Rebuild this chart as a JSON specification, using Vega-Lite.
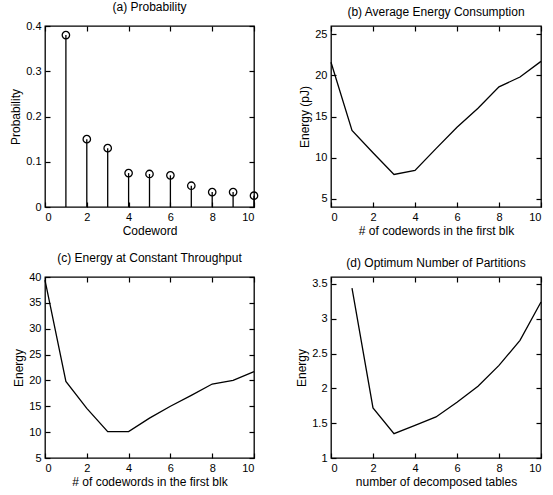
{
  "$schema": "https://vega.github.io/schema/vega-lite/v6.json",
  "padding": {"left": 9, "top": 0, "right": 5, "bottom": 5},
  "background": "white",
  "columns": 2,
  "spacing": {"row": 70, "column": 77},
  "bounds": "flush",
  "datasets": {
    "prob": [
      {"codeword": 1, "p": 0.38},
      {"codeword": 2, "p": 0.15},
      {"codeword": 3, "p": 0.13},
      {"codeword": 4, "p": 0.075},
      {"codeword": 5, "p": 0.073},
      {"codeword": 6, "p": 0.07},
      {"codeword": 7, "p": 0.047},
      {"codeword": 8, "p": 0.033},
      {"codeword": 9, "p": 0.033},
      {"codeword": 10, "p": 0.025}
    ],
    "avg": [
      {"n": 0, "e": 21.6}, {"n": 1, "e": 13.3}, {"n": 2, "e": 10.6}, {"n": 3, "e": 7.95},
      {"n": 4, "e": 8.45}, {"n": 5, "e": 11.1}, {"n": 6, "e": 13.7}, {"n": 7, "e": 16.0},
      {"n": 8, "e": 18.6}, {"n": 9, "e": 19.8}, {"n": 10, "e": 21.7}
    ],
    "const": [
      {"n": 0, "e": 39.4}, {"n": 1, "e": 19.8}, {"n": 2, "e": 14.6}, {"n": 3, "e": 10.1},
      {"n": 4, "e": 10.1}, {"n": 5, "e": 12.7}, {"n": 6, "e": 15.0}, {"n": 7, "e": 17.1},
      {"n": 8, "e": 19.3}, {"n": 9, "e": 20.0}, {"n": 10, "e": 21.7}
    ],
    "part": [
      {"t": 1, "e": 3.44}, {"t": 2, "e": 1.72}, {"t": 3, "e": 1.35}, {"t": 4, "e": 1.47},
      {"t": 5, "e": 1.59}, {"t": 6, "e": 1.8}, {"t": 7, "e": 2.03}, {"t": 8, "e": 2.33},
      {"t": 9, "e": 2.69}, {"t": 10, "e": 3.24}
    ]
  },
  "concat": [
    {
      "title": "(a) Probability",
      "width": 209, "height": 181,
      "data": {"name": "prob"},
      "resolve": {"axis": {"x": "independent", "y": "independent"}},
      "layer": [
        {
          "mark": {"type": "rule", "color": "black", "strokeWidth": 1.3},
          "encoding": {
            "x": {"field": "codeword", "type": "quantitative", "scale": {"domain": [0, 10]}, "axis": {"title": "Codeword", "values": [0, 2, 4, 6, 8, 10]}},
            "y": {"field": "p", "type": "quantitative", "scale": {"domain": [0, 0.4]}, "axis": {"title": "Probability", "values": [0, 0.1, 0.2, 0.3, 0.4], "format": "~g"}},
            "y2": {"datum": 0}
          }
        },
        {
          "mark": {"type": "point", "filled": false, "color": "black", "size": 55, "strokeWidth": 1.3, "opacity": 1},
          "encoding": {
            "x": {"field": "codeword", "type": "quantitative", "axis": {"orient": "top", "labels": false, "title": null, "values": [0, 2, 4, 6, 8, 10]}},
            "y": {"field": "p", "type": "quantitative", "axis": {"orient": "right", "labels": false, "title": null, "values": [0, 0.1, 0.2, 0.3, 0.4]}}
          }
        }
      ]
    },
    {
      "title": "(b) Average Energy Consumption",
      "width": 210, "height": 181,
      "data": {"name": "avg"},
      "resolve": {"axis": {"x": "independent", "y": "independent"}},
      "layer": [
        {
          "mark": {"type": "line", "color": "black", "strokeWidth": 1.3},
          "encoding": {
            "x": {"field": "n", "type": "quantitative", "scale": {"domain": [0, 10]}, "axis": {"title": "# of codewords in the first blk", "values": [0, 2, 4, 6, 8, 10]}},
            "y": {"field": "e", "type": "quantitative", "scale": {"domain": [5, 25]}, "axis": {"title": "Energy (pJ)", "values": [5, 10, 15, 20, 25]}}
          }
        },
        {
          "mark": {"type": "point", "opacity": 0},
          "encoding": {
            "x": {"field": "n", "type": "quantitative", "axis": {"orient": "top", "labels": false, "title": null, "values": [0, 2, 4, 6, 8, 10]}},
            "y": {"field": "e", "type": "quantitative", "axis": {"orient": "right", "labels": false, "title": null, "values": [5, 10, 15, 20, 25]}}
          }
        }
      ]
    },
    {
      "title": "(c) Energy at Constant Throughput",
      "width": 209, "height": 181,
      "data": {"name": "const"},
      "resolve": {"axis": {"x": "independent", "y": "independent"}},
      "layer": [
        {
          "mark": {"type": "line", "color": "black", "strokeWidth": 1.3},
          "encoding": {
            "x": {"field": "n", "type": "quantitative", "scale": {"domain": [0, 10]}, "axis": {"title": "# of codewords in the first blk", "values": [0, 2, 4, 6, 8, 10]}},
            "y": {"field": "e", "type": "quantitative", "scale": {"domain": [5, 40]}, "axis": {"title": "Energy", "values": [5, 10, 15, 20, 25, 30, 35, 40]}}
          }
        },
        {
          "mark": {"type": "point", "opacity": 0},
          "encoding": {
            "x": {"field": "n", "type": "quantitative", "axis": {"orient": "top", "labels": false, "title": null, "values": [0, 2, 4, 6, 8, 10]}},
            "y": {"field": "e", "type": "quantitative", "axis": {"orient": "right", "labels": false, "title": null, "values": [5, 10, 15, 20, 25, 30, 35, 40]}}
          }
        }
      ]
    },
    {
      "title": "(d) Optimum Number of Partitions",
      "width": 210, "height": 181,
      "data": {"name": "part"},
      "resolve": {"axis": {"x": "independent", "y": "independent"}},
      "layer": [
        {
          "mark": {"type": "line", "color": "black", "strokeWidth": 1.3},
          "encoding": {
            "x": {"field": "t", "type": "quantitative", "scale": {"domain": [0, 10]}, "axis": {"title": "number of decomposed tables", "values": [0, 2, 4, 6, 8, 10]}},
            "y": {"field": "e", "type": "quantitative", "scale": {"domain": [1, 3.5]}, "axis": {"title": "Energy", "values": [1, 1.5, 2, 2.5, 3, 3.5], "format": "~g"}}
          }
        },
        {
          "mark": {"type": "point", "opacity": 0},
          "encoding": {
            "x": {"field": "t", "type": "quantitative", "axis": {"orient": "top", "labels": false, "title": null, "values": [0, 2, 4, 6, 8, 10]}},
            "y": {"field": "e", "type": "quantitative", "axis": {"orient": "right", "labels": false, "title": null, "values": [1, 1.5, 2, 2.5, 3, 3.5]}}
          }
        }
      ]
    }
  ],
  "config": {
    "font": "Liberation Sans",
    "view": {"stroke": "black", "strokeWidth": 1.3},
    "title": {"fontSize": 12, "fontWeight": "normal", "color": "black", "offset": 6},
    "axis": {
      "domain": false,
      "offset": -5,
      "grid": false,
      "ticks": true, "tickColor": "black", "tickSize": 5, "tickWidth": 1.2,
      "labelFontSize": 11, "labelColor": "black", "labelPadding": 4,
      "titleFontSize": 12, "titleFontWeight": "normal", "titleColor": "black", "titlePadding": 3
    }
  }
}
